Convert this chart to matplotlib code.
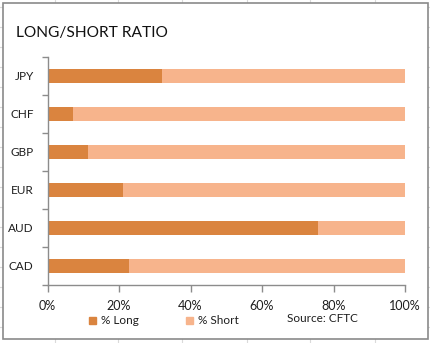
import matplotlib
matplotlib.use("Agg")
import matplotlib.pyplot as plt
from matplotlib.patches import Rectangle, Patch
from matplotlib.lines import Line2D
from matplotlib.ticker import FuncFormatter

currencies = ["JPY", "CHF", "GBP", "EUR", "AUD", "CAD"]
pct_long = [32.0, 7.0, 11.2, 21.0, 75.6, 22.8]
pct_short = [100 - v for v in pct_long]

LONG_COLOR = "#DA843F"
SHORT_COLOR = "#F7B48C"
AXIS_COLOR = "#8C8C8C"
TEXT_COLOR = "#1E1E1E"

plt.rcParams["font.family"] = ["Lato", "DejaVu Sans"]

W, H = 430, 343
fig = plt.figure(figsize=(W / 100, H / 100), dpi=100)

# spreadsheet cell lines behind the chart object
for x in [55, 118, 182, 247, 310, 375]:
    fig.add_artist(Line2D([x / W, x / W], [0, 1], color="#DADADA", lw=0.8, zorder=0))
for y in range(7, H, 20):
    fig.add_artist(Line2D([0, 1], [1 - y / H, 1 - y / H], color="#DADADA", lw=0.8, zorder=0))

# chart area with grey border
fig.add_artist(Rectangle((3 / W, 1 - 339 / H), 425 / W, 336 / H, facecolor="white",
                         edgecolor="#8A8A8A", lw=1.2, zorder=1))

ax = fig.add_axes([47.5 / W, 1 - 285 / H, (405 - 47.5) / W, (285 - 57) / H])
ax.set_zorder(2)
ax.patch.set_alpha(0)

ypos = list(range(len(currencies)))
ax.barh(ypos, pct_long, height=0.39, color=LONG_COLOR, label="% Long")
ax.barh(ypos, pct_short, left=pct_long, height=0.39, color=SHORT_COLOR, label="% Short")

ax.set_xlim(0, 100)
ax.set_ylim(len(currencies) - 0.5, -0.5)
ax.set_xticks([0, 20, 40, 60, 80, 100])
ax.xaxis.set_major_formatter(FuncFormatter(lambda v, p: f"{v:.0f}%"))
ax.set_yticks(ypos)
ax.set_yticklabels(currencies)
ax.set_yticks([i - 0.5 for i in range(len(currencies) + 1)], minor=True)

for s in ["top", "right"]:
    ax.spines[s].set_visible(False)
for s in ["left", "bottom"]:
    ax.spines[s].set_color(AXIS_COLOR)
    ax.spines[s].set_linewidth(1.0)

ax.tick_params(axis="y", which="major", length=0, pad=10, labelsize=8.5, colors=TEXT_COLOR)
ax.tick_params(axis="y", which="minor", length=4, color=AXIS_COLOR, width=1.0)
ax.tick_params(axis="x", length=5, color=AXIS_COLOR, width=1.0, pad=6, labelsize=9,
               labelcolor=TEXT_COLOR)

fig.text(16 / W, 1 - 33 / H, "LONG/SHORT RATIO", fontsize=11.2, va="center", ha="left",
         color="#111111", zorder=3)

handles = [Patch(color=LONG_COLOR), Patch(color=SHORT_COLOR)]
fig.legend(handles, ["% Long", "% Short"], loc="center left",
           bbox_to_anchor=(83 / W, 1 - 321 / H), ncol=2, frameon=False, fontsize=8.5,
           handlelength=0.6, handleheight=0.6, handletextpad=0.4, columnspacing=4.0,
           borderpad=0, labelcolor=TEXT_COLOR)
fig.text(287 / W, 1 - 318 / H, "Source: CFTC", fontsize=8.5, va="center", ha="left",
         color=TEXT_COLOR, zorder=3)

fig.savefig("out.png", dpi=100)
